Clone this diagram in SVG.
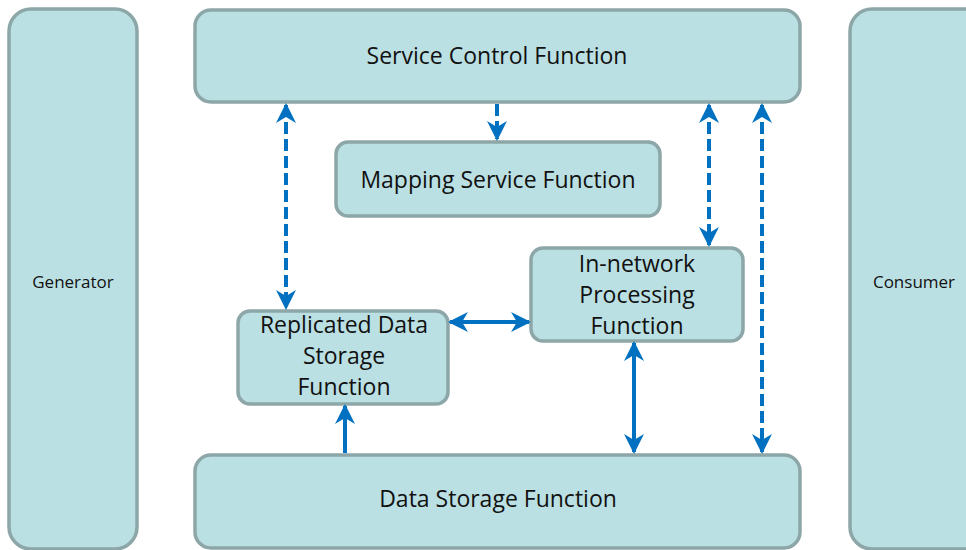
<svg xmlns="http://www.w3.org/2000/svg" width="966" height="550" viewBox="0 0 966 550">
<style>
.box{fill:#BBE0E3;stroke:#8DA6A8;stroke-width:3.5}
.t{font-family:"Open Sans","Liberation Sans",sans-serif;font-size:23px;fill:#111;text-anchor:middle}
.s{font-family:"Open Sans","Liberation Sans",sans-serif;font-size:17px;fill:#111;text-anchor:middle}
.d{stroke:#0070C0;stroke-width:4;fill:none;stroke-dasharray:12 5}
.l{stroke:#0070C0;stroke-width:4;fill:none}
</style>
<defs>
<marker id="ah" viewBox="0 0 10 10" refX="9" refY="5" markerWidth="5" markerHeight="5.5" orient="auto-start-reverse" markerUnits="strokeWidth">
<path d="M0,0 L10,5 L0,10 L3,5 Z" fill="#0070C0"/>
</marker>
</defs>
<rect width="966" height="550" fill="#fff"/>
<g id="generator"><rect class="box" x="9" y="9" width="128" height="540" rx="22"/><text class="s" x="73" y="288">Generator</text></g>
<g id="consumer"><rect class="box" x="850" y="9" width="140" height="540" rx="22"/><text class="s" x="914" y="288">Consumer</text></g>
<g id="service-control"><rect class="box" x="195" y="10" width="605" height="92" rx="16"/><text class="t" x="497" y="64">Service Control Function</text></g>
<g id="mapping"><rect class="box" x="336" y="142" width="324" height="74" rx="12"/><text class="t" x="498" y="188">Mapping Service Function</text></g>
<g id="in-network"><rect class="box" x="531" y="248" width="212" height="93" rx="12"/><text class="t" x="637" y="272">In-network</text><text class="t" x="637" y="303">Processing</text><text class="t" x="637" y="334">Function</text></g>
<g id="replicated"><rect class="box" x="238" y="311" width="210" height="93" rx="12"/><text class="t" x="344" y="333">Replicated Data</text><text class="t" x="344" y="364">Storage</text><text class="t" x="344" y="395">Function</text></g>
<g id="data-storage"><rect class="box" x="195" y="455" width="605" height="93" rx="16"/><text class="t" x="498" y="507">Data Storage Function</text></g>
<g id="connectors">
<line class="d" x1="286" y1="105" x2="286" y2="308" marker-start="url(#ah)" marker-end="url(#ah)"/>
<line class="d" x1="497" y1="104" x2="497" y2="139" marker-end="url(#ah)"/>
<line class="d" x1="709" y1="105" x2="709" y2="245" marker-start="url(#ah)" marker-end="url(#ah)"/>
<line class="d" x1="762" y1="105" x2="762" y2="452" marker-start="url(#ah)" marker-end="url(#ah)"/>
<line class="l" x1="450" y1="322" x2="529" y2="322" marker-start="url(#ah)" marker-end="url(#ah)"/>
<line class="l" x1="634" y1="343" x2="634" y2="452" marker-start="url(#ah)" marker-end="url(#ah)"/>
<line class="l" x1="345" y1="453" x2="345" y2="406" marker-end="url(#ah)"/>
</g>
</svg>
